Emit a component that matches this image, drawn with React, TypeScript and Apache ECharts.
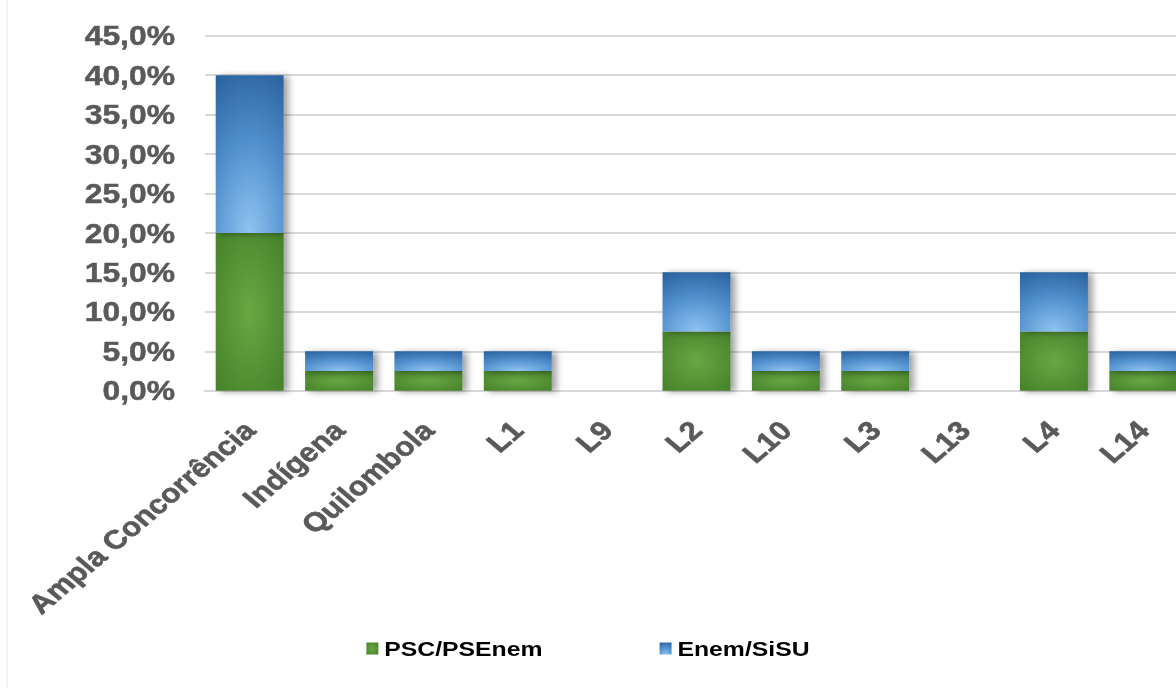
import React, { useEffect, useRef } from "react";
import * as echarts from "echarts";

const categories = [
  "Ampla Concorrência",
  "Indígena",
  "Quilombola",
  "L1",
  "L9",
  "L2",
  "L10",
  "L3",
  "L13",
  "L4",
  "L14",
];
const pscValues = [20, 2.5, 2.5, 2.5, 0, 7.5, 2.5, 2.5, 0, 7.5, 2.5];
const enemValues = [20, 2.5, 2.5, 2.5, 0, 7.5, 2.5, 2.5, 0, 7.5, 2.5];
const seriesNames = ["PSC/PSEnem", "Enem/SiSU"];
const yMin = 0;
const yMax = 45;
const yInterval = 5;

// The reference picture is horizontally stretched; draw narrower and stretch.
const PAGE_W = 1176;
const PAGE_H = 688;
const INNER_W = 997;
const S = PAGE_W / INNER_W;
const px = (v: number) => v / S;

const FONT = "'Liberation Sans', Arial, sans-serif";

export default function App() {
  const ref = useRef<HTMLDivElement>(null);
  useEffect(() => {
    if (!ref.current) return;
    const chart = echarts.init(ref.current, null, { renderer: "svg" });
    const greenFill = new echarts.graphic.RadialGradient(0.5, 0.5, 0.75, [
      { offset: 0, color: "#68a742" },
      { offset: 1, color: "#447e29" },
    ]);
    const blueFill = new echarts.graphic.RadialGradient(0.5, 1, 1.1, [
      { offset: 0, color: "#8fc4f2" },
      { offset: 0.55, color: "#4f8dcb" },
      { offset: 1, color: "#2a629e" },
    ]);
    const shadow = {
      shadowColor: "rgba(0,0,0,0.38)",
      shadowBlur: 6,
      shadowOffsetX: 4,
      shadowOffsetY: 1,
    };
    chart.setOption({
      animation: false,
      backgroundColor: "#ffffff",
      grid: {
        left: px(205),
        width: px(983),
        top: 35.7,
        bottom: 297.3,
        containLabel: false,
        outerBoundsMode: "none",
      },
      legend: {
        bottom: 24,
        left: "center",
        itemWidth: px(12),
        itemHeight: 12,
        itemGap: px(117),
        icon: "rect",
        textStyle: {
          fontFamily: FONT,
          fontWeight: "bold",
          fontSize: 21,
          color: "#000000",
        },
        data: seriesNames,
      },
      xAxis: {
        type: "category",
        data: categories,
        axisLine: { lineStyle: { color: "#d9d9d9", width: 2 } },
        axisTick: { show: false },
        axisLabel: {
          rotate: 45,
          interval: 0,
          margin: 35,
          fontFamily: FONT,
          fontWeight: "bold",
          fontSize: 26.5,
          color: "#595959",
          textBorderColor: "#595959",
          textBorderWidth: 0.6,
        },
      },
      yAxis: {
        type: "value",
        min: yMin,
        max: yMax,
        interval: yInterval,
        axisLine: { show: false },
        axisTick: { show: false },
        splitLine: { lineStyle: { color: "#d9d9d9", width: 2 } },
        axisLabel: {
          margin: px(30),
          fontFamily: FONT,
          fontWeight: "bold",
          fontSize: 27,
          color: "#595959",
          textBorderColor: "#595959",
          textBorderWidth: 0.5,
          formatter: (v: number) => v.toFixed(1).replace(".", ",") + "%",
        },
      },
      graphic: [
        {
          type: "line",
          shape: { x1: px(7), y1: 0, x2: px(7), y2: PAGE_H },
          style: { stroke: "#ececec", lineWidth: 1 },
          silent: true,
        },
      ],
      series: [
        {
          name: seriesNames[0],
          type: "bar",
          stack: "total",
          barWidth: "76%",
          data: pscValues,
          itemStyle: { color: greenFill, ...shadow },
        },
        {
          name: seriesNames[1],
          type: "bar",
          stack: "total",
          barWidth: "76%",
          data: enemValues,
          itemStyle: { color: blueFill, ...shadow },
        },
      ],
      color: ["#4f8f30", "#4a89c8"],
    });
    return () => chart.dispose();
  }, []);
  return (
    <div
      style={{
        position: "absolute",
        left: 0,
        top: 0,
        width: PAGE_W,
        height: PAGE_H,
        overflow: "hidden",
        background: "#ffffff",
      }}
    >
      <div
        ref={ref}
        style={{
          width: INNER_W,
          height: PAGE_H,
          transform: `scaleX(${S})`,
          transformOrigin: "0 0",
        }}
      />
    </div>
  );
}
